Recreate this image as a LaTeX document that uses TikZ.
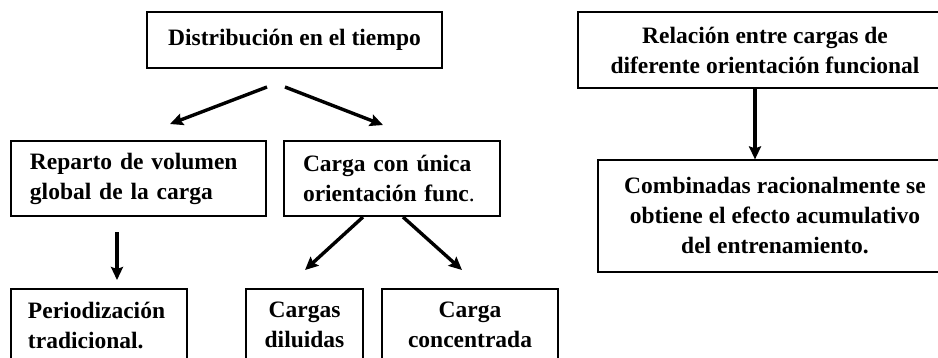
\documentclass[tikz,border=0pt]{standalone}
\usepackage{fontspec}
\setmainfont{Liberation Serif}
\usetikzlibrary{arrows.meta}
\begin{document}
\begin{tikzpicture}[x=1pt,y=-1pt,
  box/.style={draw=black,line width=1.2pt,rectangle,inner sep=0pt,
    font=\bfseries\fontsize{23.5}{30}\selectfont},
  arr/.style={line width=3.4pt,-{Stealth[length=13pt,width=12pt,inset=2pt]}}]
\useasboundingbox (0,0) rectangle (938,357);
\clip (0,0) rectangle (938,357);
\fill[white] (0,0) rectangle (938,357);
% left part
\node[box,minimum width=295pt,minimum height=56pt] (dist) at (294.5,40) {Distribución en el tiempo};
\node[box,minimum width=255pt,minimum height=75pt,text width=255pt,align=left] (rep) at (138.5,178.5) {\hspace*{19pt}Reparto de volumen\\\hspace*{19pt}global de la carga};
\node[box,minimum width=216pt,minimum height=75pt,text width=216pt,align=left] (carga) at (392,178.5) {\hspace*{19pt}Carga con única\\\hspace*{19pt}orientación func\textmd{.}};
\node[box,minimum width=176pt,minimum height=72pt,text width=176pt,align=left] (per) at (99,325) {\hspace*{17pt}Periodización\\\hspace*{17pt}tradicional.};
\node[box,minimum width=117pt,minimum height=72pt,align=center] (dil) at (304.5,325) {Cargas\\diluidas};
\node[box,minimum width=176pt,minimum height=72pt,align=center] (conc) at (470,325) {Carga\\concentrada};
% right part
\node[box,minimum width=374pt,minimum height=76pt,align=center] (rel) at (765,50) {Relación entre cargas de\\diferente orientación funcional};
\node[box,minimum width=354pt,minimum height=112pt,align=center] (comb) at (775,216) {Combinadas racionalmente se\\obtiene el efecto acumulativo\\del entrenamiento.};
% arrow ends
\coordinate (d1) at (267,87);
\coordinate (r1) at (170,124);
\coordinate (d2) at (285,87);
\coordinate (c1) at (383,125);
\coordinate (r2) at (117,232);
\coordinate (p1) at (117,280);
\coordinate (c2) at (363,217);
\coordinate (l1) at (305,270);
\coordinate (c3) at (403,217);
\coordinate (k1) at (462,270);
\draw[arr] (d1) -- (r1);
\draw[arr] (d2) -- (c1);
\draw[arr] (r2) -- (p1);
\draw[arr] (c2) -- (l1);
\draw[arr] (c3) -- (k1);
\draw[arr] (rel.south -| 755,0) -- (comb.north -| 755,0);
\end{tikzpicture}
\end{document}
